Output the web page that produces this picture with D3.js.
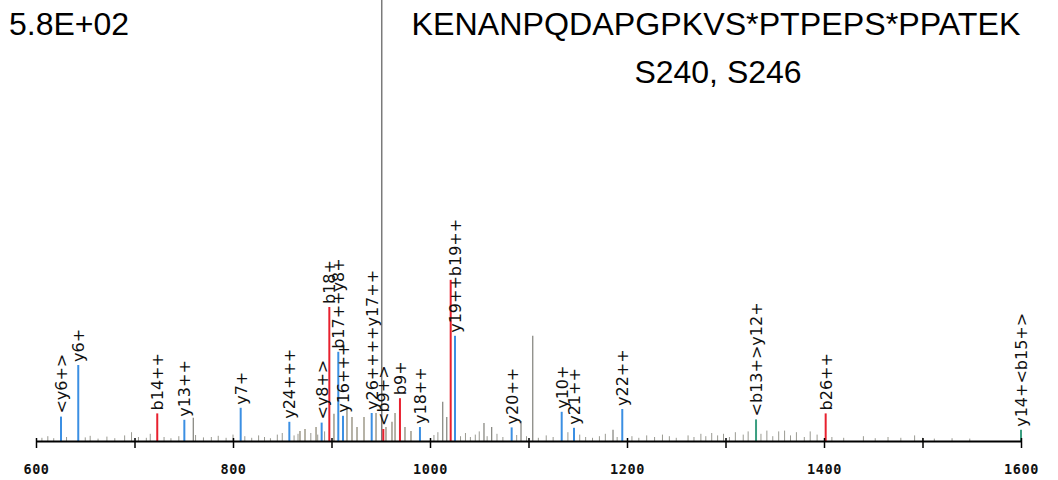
<!DOCTYPE html>
<html>
<head>
<meta charset="utf-8">
<script src="https://cdn.jsdelivr.net/npm/d3@7"></script>
<style>
  html, body { margin: 0; padding: 0; background: #ffffff; }
  svg { display: block; }
</style>
</head>
<body>
<svg id="chart" width="1058" height="480"></svg>
<script>
// ---------- data ----------
const maxIntensityLabel = "5.8E+02";
const peptideTitle = "KENANPQDAPGPKVS*PTPEPS*PPATEK";
const siteTitle = "S240, S246";

// annotated / major peaks
const peakMz    = [625.4, 642.9, 723.1, 750.6, 759.7, 807.8, 857.2, 890.0, 897.8, 906.9, 911.7, 940.8, 951.0, 952.6, 969.5, 989.8, 1012.9, 1017.0, 1021.0, 1025.4, 1054.8, 1062.6, 1082.9, 1092.4, 1104.3, 1133.7, 1146.2, 1185.8, 1195.2, 1331.0, 1401.7, 1600.0];
const peakInt   = [6.1, 19.0, 6.9, 5.3, 5.8, 8.3, 4.8, 4.6, 33.5, 22.3, 6.3, 7.0, 130, 3.0, 10.7, 3.5, 9.8, 6.0, 40.3, 26.3, 4.5, 3.5, 3.4, 5.0, 26.3, 7.3, 3.3, 2.8, 8.0, 5.4, 6.9, 2.8];
const peakType  = ["y", "y", "b", "y", "o", "y", "y", "y", "b", "y", "y", "y", "p", "b", "b", "y", "o", "o", "b", "y", "o", "o", "y", "o", "o", "y", "y", "o", "y", "g", "b", "g"];
const peakLabel = ["<y6+>", "y6+", "b14++", "y13++", "", "y7+", "y24+++", "<y8+>", "b18+", "b17++y8+", "y16+++", "y26++++y17++", "", "<b9+>", "b9+", "y18++", "", "", "", "y19++b19++", "", "", "y20++", "", "", "y10+", "y21++", "", "y22++", "<b13+>y12+", "b26++", "y14+<b15+>"];

// unannotated cluster peaks
const clusterMz  = [868.0, 873.1, 884.3, 902.5, 915.7, 920.8, 925.9, 933.0, 945.2, 955.3, 961.4, 964.5, 974.6, 980.7];
const clusterInt = [2.5, 3.0, 3.5, 6.8, 8.5, 6.0, 3.5, 6.0, 7.0, 3.5, 4.8, 7.0, 3.5, 2.5];

// low-level noise peaks
const noiseMz  = [606, 612, 618, 631, 650, 655, 663, 672, 680, 690, 697, 704, 712, 716, 730, 737, 745, 762, 770, 778, 785, 793, 800, 812, 819, 826, 832, 838, 845, 850, 862, 866, 879, 886, 893,
                  1004, 1008, 1031, 1036, 1041, 1046, 1050, 1058, 1068, 1074, 1088, 1098, 1110, 1118, 1125, 1140, 1152, 1158, 1165, 1172, 1178, 1190, 1205, 1212, 1220, 1228, 1236, 1243, 1250, 1262, 1268, 1275, 1280, 1286, 1292, 1298, 1304, 1310, 1318, 1323, 1336, 1342, 1348, 1354, 1360, 1366, 1372, 1380, 1386, 1393, 1408, 1420, 1440, 1452, 1465, 1478, 1492, 1500, 1512, 1530, 1548];
const noiseInt = [0.8, 1.2, 0.7, 1.0, 0.9, 1.3, 0.6, 1.1, 0.7, 1.4, 2.2, 1.0, 0.8, 1.8, 1.0, 0.7, 1.2, 1.5, 0.9, 1.0, 1.3, 0.8, 1.6, 1.2, 0.8, 1.4, 1.0, 0.7, 1.6, 2.0, 1.4, 1.8, 2.0, 1.6, 2.4,
                  1.5, 2.2, 1.2, 2.0, 1.0, 1.6, 2.4, 1.2, 1.8, 1.0, 1.5, 1.2, 0.8, 1.4, 1.0, 2.2, 1.6, 1.0, 0.8, 1.2, 1.8, 1.0, 1.2, 0.8, 1.4, 1.0, 1.6, 1.2, 0.8, 1.4, 1.0, 1.8, 1.2, 2.0, 1.4, 1.8, 1.0, 2.2, 1.6, 2.4, 1.8, 2.6, 1.2, 2.4, 2.6, 1.4, 2.2, 1.0, 2.4, 1.6, 1.0, 0.8, 1.2, 0.7, 1.0, 0.8, 1.4, 0.8, 0.6, 0.7, 0.6];

const tickValues = [600, 700, 800, 900, 1000, 1100, 1200, 1300, 1400, 1500, 1600];
const tickLabels = [600, 800, 1000, 1200, 1400, 1600];

// ---------- styles ----------
const typeColor = { y: "#3b8fe3", b: "#e8202e", g: "#3a9e80", o: "#8a8a84", p: "#7a7a7a" };
const typeWidth = { y: 2, b: 2, g: 2, o: 1.3, p: 1.5 };

// ---------- scales ----------
const svg = d3.select("#chart");
const x = d3.scaleLinear().domain([600, 1600]).range([36, 1021]);
const y = d3.scaleLinear().domain([0, 100]).range([441, 41]);

// noise
svg.append("g").selectAll("line")
  .data(noiseMz.map((m, i) => ({ mz: m, v: noiseInt[i] })))
  .join("line")
  .attr("x1", d => x(d.mz)).attr("x2", d => x(d.mz))
  .attr("y1", y(0)).attr("y2", d => y(d.v))
  .attr("stroke", "#9a9a92").attr("stroke-width", 1);

// cluster
svg.append("g").selectAll("line")
  .data(clusterMz.map((m, i) => ({ mz: m, v: clusterInt[i] })))
  .join("line")
  .attr("x1", d => x(d.mz)).attr("x2", d => x(d.mz))
  .attr("y1", y(0)).attr("y2", d => y(d.v))
  .attr("stroke", "#8f8a78").attr("stroke-width", 1.3);

// main peaks
const peaks = peakMz.map((m, i) => ({ mz: m, v: peakInt[i], t: peakType[i], label: peakLabel[i] }));
svg.append("g").selectAll("line")
  .data(peaks)
  .join("line")
  .attr("x1", d => x(d.mz)).attr("x2", d => x(d.mz))
  .attr("y1", y(0)).attr("y2", d => y(d.v))
  .attr("stroke", d => typeColor[d.t])
  .attr("stroke-width", d => typeWidth[d.t]);

// labels
svg.append("g").selectAll("text")
  .data(peaks.filter(d => d.label))
  .join("text")
  .attr("transform", d => `translate(${x(d.mz) + 6},${y(d.v) - 3}) rotate(-90)`)
  .attr("text-anchor", "start")
  .attr("font-family", "'DejaVu Sans', Verdana, sans-serif")
  .attr("font-size", 16)
  .attr("fill", "#111")
  .text(d => d.label);

// axis
const axis = d3.axisBottom(x)
  .tickValues(tickValues)
  .tickSize(7)
  .tickSizeOuter(0)
  .tickFormat(d => tickLabels.includes(d) ? String(d) : "");
const ax = svg.append("g").attr("transform", `translate(0,${y(0)})`).call(axis);
ax.select(".domain").attr("stroke", "#000").attr("stroke-width", 2);
ax.selectAll(".tick line").attr("y1", -3).attr("stroke", "#000").attr("stroke-width", 1.5);
ax.selectAll(".tick text")
  .attr("y", 33).attr("dy", null)
  .attr("font-family", "'DejaVu Sans Mono', monospace")
  .attr("font-weight", "bold")
  .attr("font-size", 13.5)
  .attr("letter-spacing", 0.6)
  .attr("fill", "#111");

// titles
const titleFont = "'Liberation Sans', Arial, sans-serif";
svg.append("text")
  .attr("x", 9).attr("y", 35)
  .attr("font-family", titleFont)
  .attr("font-size", 32)
  .attr("fill", "#000")
  .text(maxIntensityLabel);
svg.append("text")
  .attr("x", 716).attr("y", 35)
  .attr("text-anchor", "middle")
  .attr("font-family", titleFont)
  .attr("font-size", 32.2)
  .attr("fill", "#000")
  .text(peptideTitle);
svg.append("text")
  .attr("x", 718).attr("y", 83)
  .attr("text-anchor", "middle")
  .attr("font-family", titleFont)
  .attr("font-size", 32)
  .attr("fill", "#000")
  .text(siteTitle);
</script>
</body>
</html>
